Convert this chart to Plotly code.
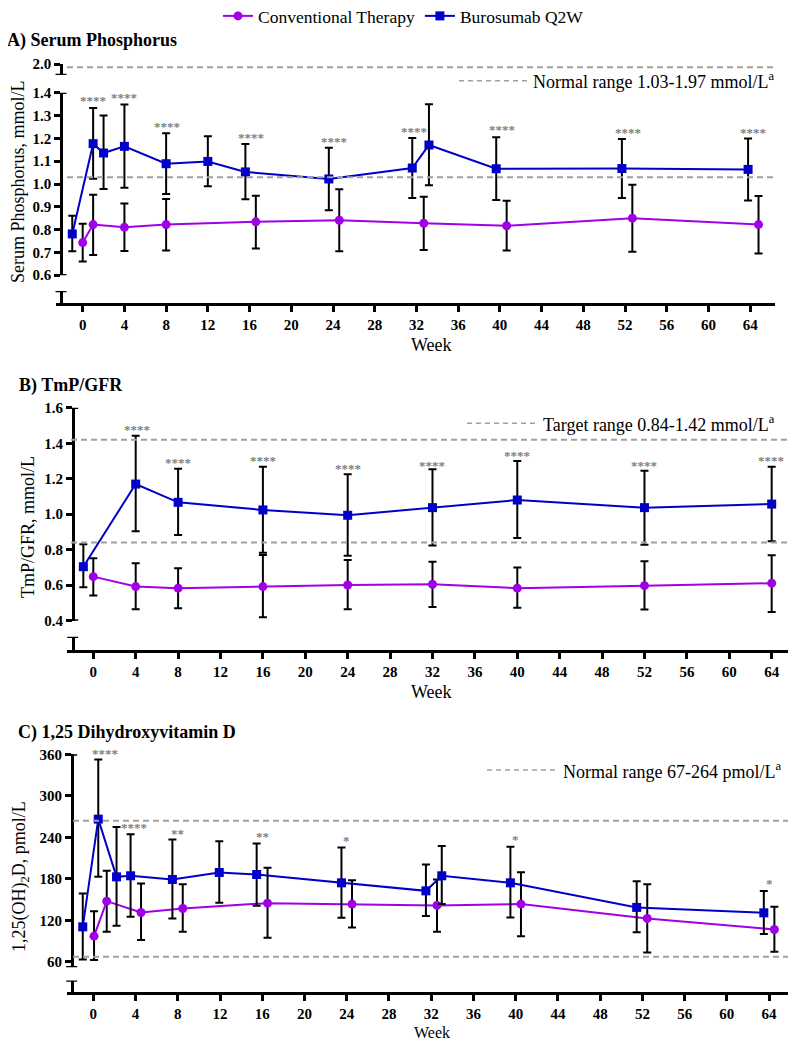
import plotly.graph_objects as go

# ---------------- data ----------------
# weeks are the plotted x positions (GraphPad dodge offsets included)
weeks_ticks = list(range(0, 65, 4))

# Panel A - Serum phosphorus, mmol/L
A_conv_week = [0, 1, 4, 8, 16.6, 24.6, 32.7, 40.65, 52.7, 64.8]
A_conv_mean = [0.743, 0.822, 0.810, 0.822, 0.834, 0.841, 0.828, 0.817, 0.850, 0.822]
A_conv_hi = [0.826, 0.953, 0.915, 0.934, 0.949, 0.977, 0.944, 0.927, 0.997, 0.947]
A_conv_lo = [0.660, 0.689, 0.706, 0.708, 0.717, 0.705, 0.711, 0.708, 0.703, 0.695]
A_buro_week = [-1, 1, 2, 4, 8, 12, 15.6, 23.6, 31.6, 33.2, 39.65, 51.7, 63.8]
A_buro_mean = [0.781, 1.177, 1.136, 1.165, 1.089, 1.099, 1.053, 1.022, 1.070, 1.171, 1.067, 1.068, 1.064]
A_buro_hi = [0.861, 1.333, 1.300, 1.349, 1.223, 1.210, 1.175, 1.159, 1.202, 1.350, 1.205, 1.197, 1.200]
A_buro_lo = [0.705, 1.023, 0.978, 0.984, 0.956, 0.990, 0.933, 0.885, 0.939, 0.994, 0.930, 0.939, 0.928]
A_sig_week = [1, 4, 8.1, 16.1, 24.1, 31.8, 40.2, 52.3, 64.3]
A_sig_y = [1.368, 1.378, 1.254, 1.205, 1.188, 1.232, 1.238, 1.225, 1.227]
A_sig_text = ["****"] * 9
A_range_lo, A_range_hi = 1.03, 1.97
A_yticks = [0.6, 0.7, 0.8, 0.9, 1.0, 1.1, 1.2, 1.3, 1.4]

# Panel B - TmP/GFR, mmol/L
B_conv_week = [0, 4, 8, 16, 24, 32, 40, 52, 64]
B_conv_mean = [0.648, 0.592, 0.583, 0.592, 0.601, 0.605, 0.583, 0.597, 0.611]
B_conv_hi = [0.752, 0.723, 0.695, 0.770, 0.742, 0.732, 0.699, 0.735, 0.768]
B_conv_lo = [0.541, 0.464, 0.470, 0.419, 0.464, 0.477, 0.472, 0.462, 0.449]
B_buro_week = [-0.94, 4, 8, 16, 24, 32, 40, 52, 64]
B_buro_mean = [0.704, 1.170, 1.067, 1.024, 0.994, 1.037, 1.080, 1.037, 1.057]
B_buro_hi = [0.830, 1.442, 1.256, 1.268, 1.225, 1.253, 1.300, 1.245, 1.268]
B_buro_lo = [0.588, 0.904, 0.883, 0.783, 0.766, 0.823, 0.866, 0.828, 0.847]
B_sig_week = [4.1, 8, 16, 24, 32, 40, 52, 63.9]
B_sig_y = [1.478, 1.292, 1.300, 1.255, 1.277, 1.332, 1.275, 1.305]
B_sig_text = ["****"] * 8
B_range_lo, B_range_hi = 0.84, 1.42
B_yticks = [0.4, 0.6, 0.8, 1.0, 1.2, 1.4, 1.6]

# Panel C - 1,25(OH)2D, pmol/L
C_conv_week = [0.07, 1.27, 4.52, 8.47, 16.5, 24.5, 32.55, 40.5, 52.46, 64.5]
C_conv_mean = [97.0, 147.7, 131.3, 137.1, 144.8, 143.4, 141.5, 143.4, 122.7, 106.7]
C_conv_hi = [133.2, 191.6, 173.3, 172.3, 196.0, 178.1, 179.1, 189.7, 172.3, 139.5]
C_conv_lo = [62.3, 103.3, 91.3, 103.3, 94.6, 109.6, 103.3, 97.0, 73.5, 74.3]
C_buro_week = [-1.0, 0.47, 2.2, 3.53, 7.49, 11.93, 15.47, 23.5, 31.5, 33.0, 39.5, 51.46, 63.5]
C_buro_mean = [110.5, 266.4, 182.9, 184.4, 179.1, 189.2, 186.3, 174.2, 162.6, 184.4, 174.2, 138.6, 130.8]
C_buro_hi = [158.8, 352.8, 255.2, 244.7, 237.0, 234.5, 231.2, 225.4, 200.8, 227.7, 226.3, 176.6, 162.2]
C_buro_lo = [63.3, 182.9, 112.0, 125.0, 122.7, 145.2, 140.9, 123.5, 126.0, 143.4, 124.0, 102.8, 100.0]
C_sig_week = [1.1, 3.9, 8, 16, 24, 40, 64]
C_sig_y = [361.4, 254.4, 245.7, 240.8, 236.0, 237.4, 173.3]
C_sig_text = ["****", "****", "**", "**", "*", "*", "*"]
C_range_lo, C_range_hi = 67, 264
C_yticks = [60, 120, 180, 240, 300, 360]

# ---------------- styling / geometry ----------------
W, H, OFF = 780, 1034, 8
SERIF = "Liberation Serif, Times New Roman, serif"
PURPLE = "#A000E6"
BLUE = "#0000C8"
GRAY = "#A0A0A0"


def px(X):
    return (X - OFF) / W


def py(Y):
    return 1 - (Y - OFF) / H


def clamp(v):
    return min(1.0, max(0.0, v))


def errs(mean, hi, lo):
    return ([h - m for h, m in zip(hi, mean)], [m - l for m, l in zip(mean, lo)])


fig = go.Figure()


def add_series(xa, ya, week, mean, hi, lo, name, color, symbol, legend):
    up, dn = errs(mean, hi, lo)
    fig.add_trace(go.Scatter(
        x=week, y=mean, xaxis=xa, yaxis=ya, name=name, mode="lines+markers",
        line=dict(color=color, width=2),
        marker=dict(color=color, symbol=symbol, size=9),
        error_y=dict(type="data", symmetric=False, array=up, arrayminus=dn,
                     color="black", thickness=2, width=4),
        showlegend=legend, cliponaxis=False, legendgroup=name))


add_series("x", "y", A_conv_week, A_conv_mean, A_conv_hi, A_conv_lo, "Conventional Therapy", PURPLE, "circle", True)
add_series("x", "y", A_buro_week, A_buro_mean, A_buro_hi, A_buro_lo, "Burosumab Q2W", BLUE, "square", True)
add_series("x2", "y4", B_conv_week, B_conv_mean, B_conv_hi, B_conv_lo, "Conventional Therapy", PURPLE, "circle", False)
add_series("x2", "y4", B_buro_week, B_buro_mean, B_buro_hi, B_buro_lo, "Burosumab Q2W", BLUE, "square", False)
add_series("x3", "y6", C_conv_week, C_conv_mean, C_conv_hi, C_conv_lo, "Conventional Therapy", PURPLE, "circle", False)
add_series("x3", "y6", C_buro_week, C_buro_mean, C_buro_hi, C_buro_lo, "Burosumab Q2W", BLUE, "square", False)

# empty traces so the broken-axis pieces get drawn
for xa, ya in [("x", "y2"), ("x", "y3"), ("x2", "y5"), ("x3", "y7")]:
    fig.add_trace(go.Scatter(x=[None], y=[None], xaxis=xa, yaxis=ya, showlegend=False, hoverinfo="skip"))

axis_common = dict(showline=True, linecolor="black", linewidth=2.5, ticks="outside", ticklen=6,
                   tickwidth=2.5, tickcolor="black", showgrid=False, zeroline=False,
                   tickfont=dict(family=SERIF, size=15, color="black", weight="bold"))


def yax(top, bot, xpos, rng, tickvals=None, ticktext=None):
    d = dict(axis_common, domain=[clamp(py(bot)), clamp(py(top))], range=rng, anchor="free", position=px(xpos))
    if tickvals is None:
        d.update(showticklabels=False, ticks="")
    else:
        d.update(tickvals=tickvals, ticktext=ticktext)
    return d


def xax(left, right, ypos, rng):
    return dict(axis_common, domain=[clamp(px(left)), clamp(px(right))], range=rng, anchor="free",
                position=py(ypos), tickvals=weeks_ticks, ticktext=[str(t) for t in weeks_ticks])


fmt1 = lambda v: f"{v:.1f}"
A_rng = [0.5995, 1.4005]
B_rng = [0.3995, 1.6005]
C_rng = [51.9, 360.3]
fig.update_layout(
    xaxis=xax(56, 775, 304, [-2.56, 66.38]),
    yaxis=yax(92.7, 275.3, 61, A_rng, A_yticks, [fmt1(v) for v in A_yticks]),
    yaxis2=yax(64, 75, 61, [1.9, 2.0005], [2.0], ["2.0"]),
    yaxis3=yax(291, 304, 61, [0, 1]),
    xaxis2=xax(66.7, 788, 651, [-2.51, 65.54]),
    yaxis4=yax(407.7, 620.7, 72.7, B_rng, B_yticks, [fmt1(v) for v in B_yticks]),
    yaxis5=yax(636.7, 651, 72.7, [0, 1]),
    xaxis3=xax(66.7, 788, 993, [-2.52, 65.79]),
    yaxis6=yax(754.3, 967.3, 71.7, C_rng, C_yticks, [str(v) for v in C_yticks]),
    yaxis7=yax(980.5, 993, 71.7, [0, 1]),
)

shapes = []


def hline(yref, val, x0, x1):
    shapes.append(dict(type="line", xref="paper", yref=yref, x0=px(x0), x1=px(x1), y0=val, y1=val,
                       line=dict(color=GRAY, width=2, dash="6px,4px")))


def cap(yref, val, xaxis_px, half=5.5):
    shapes.append(dict(type="line", xref="paper", yref=yref, x0=px(xaxis_px - half), x1=px(xaxis_px + half),
                       y0=val, y1=val, line=dict(color="black", width=2.5)))


hline("y", A_range_lo, 67, 775)
hline("y2", A_range_hi, 67, 775)
hline("y4", B_range_lo, 71, 788)
hline("y4", B_range_hi, 71, 788)
hline("y6", C_range_lo, 73, 788)
hline("y6", C_range_hi, 73, 788)
# legend-like dashed samples
for x0, x1, Y in [(459, 528, 80.7), (467, 537, 423.3), (487, 556, 770)]:
    shapes.append(dict(type="line", xref="paper", yref="paper", x0=px(x0), x1=px(x1), y0=py(Y), y1=py(Y),
                       line=dict(color=GRAY, width=1.5, dash="5px,4px")))
# axis-break caps
cap("y2", 1.9, 61); cap("y3", 1, 61); cap("y", 0.6, 61); cap("y", 1.4, 61)
cap("y5", 1, 72.7); cap("y4", 0.4, 72.7); cap("y4", 1.6, 72.7)
cap("y7", 1, 71.7); cap("y6", 51.9, 71.7); cap("y6", 360, 71.7)

ann = []


def text(X, Y, s, size, bold=False, xanchor="left", angle=0, color="black"):
    ann.append(dict(xref="paper", yref="paper", x=px(X), y=py(Y), text=s, showarrow=False,
                    xanchor=xanchor, yanchor="middle", textangle=angle,
                    font=dict(family=SERIF, size=size, color=color, weight="bold" if bold else "normal")))


text(5, 41, "A) Serum Phosphorus", 18, True)
text(17, 385, "B) TmP/GFR", 18, True)
text(16, 732, "C) 1,25 Dihydroxyvitamin D", 18, True)
text(18, 182, "Serum Phosphorus, mmol/L", 18, angle=-90, xanchor="center")
text(28, 527, "TmP/GFR, mmol/L", 18, angle=-90, xanchor="center")
text(20, 877, "1,25(OH)<sub>2</sub>D, pmol/L", 18, angle=-90, xanchor="center")
text(432, 345, "Week", 18, xanchor="center")
text(432, 692, "Week", 18, xanchor="center")
text(432, 1032, "Week", 16, xanchor="center")
text(776, 80.7, "Normal range 1.03-1.97 mmol/L<sup>a</sup>", 18, xanchor="right")
text(777, 423.3, "Target range 0.84-1.42 mmol/L<sup>a</sup>", 18, xanchor="right")
text(783, 770, "Normal range 67-264 pmol/L<sup>a</sup>", 18, xanchor="right")

# significance marks; marks above the axis top are pinned to the top with a pixel lift
for xr, yr, wk, yy, tt, rng, pxu in [("x", "y", A_sig_week, A_sig_y, A_sig_text, A_rng, 228.25),
                                     ("x2", "y4", B_sig_week, B_sig_y, B_sig_text, B_rng, 177.5),
                                     ("x3", "y6", C_sig_week, C_sig_y, C_sig_text, C_rng, 0.691)]:
    for a, b, t in zip(wk, yy, tt):
        yv = min(b, rng[1])
        ann.append(dict(xref=xr, yref=yr, x=a, y=yv, text=t, showarrow=False, yanchor="middle",
                        yshift=0 + (b - yv) * pxu,
                        font=dict(family=SERIF, size=13, color="#808080", weight="bold")))

fig.update_layout(
    width=W, height=H, margin=dict(l=0, r=0, t=0, b=0, autoexpand=False),
    paper_bgcolor="white", plot_bgcolor="white",
    font=dict(family=SERIF, color="black"),
    shapes=shapes, annotations=ann,
    legend=dict(orientation="h", x=px(218), y=py(-2), xanchor="left", yanchor="top",
                font=dict(family=SERIF, size=17.5, color="black"), bgcolor="rgba(0,0,0,0)"),
    showlegend=True,
)

fig.write_html("out.html")
